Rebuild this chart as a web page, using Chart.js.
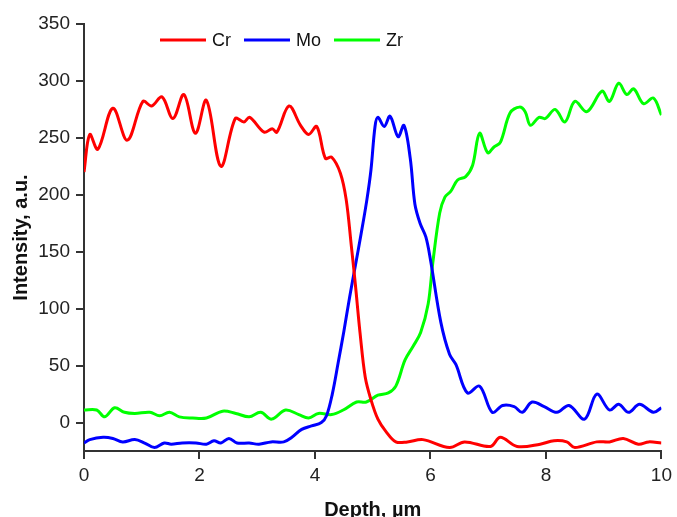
<!DOCTYPE html>
<html>
<head>
<meta charset="utf-8">
<script src="https://cdn.jsdelivr.net/npm/chart.js@4"></script>
<style>
  body { margin: 0; background: #fff; }
  #wrap { width: 677px; height: 517px; }
</style>
</head>
<body>
<div id="wrap"><canvas id="js--chart--1" width="677" height="517"></canvas></div>
<script>
const seriesNames = ["Cr", "Mo", "Zr"];
const seriesColors = ["#FF0000", "#0000FF", "#00FF00"];

const depthCr = [0, 0.1, 0.24, 0.5, 0.75, 1.02, 1.17, 1.35, 1.54, 1.73, 1.93, 2.12, 2.37, 2.62, 2.77, 2.87, 3.12, 3.26, 3.34, 3.55, 3.75, 3.89, 4.03, 4.18, 4.29, 4.44, 4.54, 4.63, 4.7, 4.78, 4.87, 4.97, 5.09, 5.23, 5.4, 5.6, 5.87, 6.33, 6.59, 7.04, 7.21, 7.5, 7.9, 8.14, 8.36, 8.5, 8.88, 9.1, 9.34, 9.6, 9.78, 10];
const intensityCr = [220, 253, 240, 276, 248, 282, 278, 286, 267, 288, 254, 283, 225, 267, 264, 268, 255, 258, 255, 278, 261, 253, 260, 232, 233, 219, 196, 155, 121, 79, 40, 20, 3, -8, -17, -17, -15, -22, -17, -21, -13, -21, -19, -16, -17, -22, -17, -17, -14, -19, -17, -18];

const depthMo = [0, 0.1, 0.33, 0.5, 0.67, 0.88, 1.05, 1.22, 1.39, 1.51, 1.7, 1.94, 2.12, 2.25, 2.37, 2.51, 2.65, 2.86, 3.03, 3.24, 3.46, 3.6, 3.77, 3.94, 4.11, 4.2, 4.3, 4.4, 4.5, 4.6, 4.7, 4.8, 4.9, 4.97, 5.04, 5.09, 5.2, 5.3, 5.44, 5.54, 5.65, 5.73, 5.82, 5.92, 6.0, 6.18, 6.33, 6.44, 6.64, 6.85, 7.07, 7.25, 7.45, 7.59, 7.76, 7.97, 8.19, 8.4, 8.67, 8.88, 9.1, 9.26, 9.43, 9.62, 9.86, 10];
const intensityMo = [-18, -15, -13, -14, -17, -15, -18, -22, -18, -19, -18, -18, -19, -16, -18, -14, -18, -18, -19, -17, -17, -13, -6, -3, 0, 6, 25, 52, 80, 110, 138, 166, 196, 222, 260, 268, 260, 269, 251, 261, 232, 192, 175, 163, 143, 88, 60, 51, 26, 32, 9, 15, 14, 9, 18, 14, 9, 15, 3, 25, 11, 16, 9, 16, 9, 13];

const depthZr = [0, 0.22, 0.36, 0.53, 0.7, 0.88, 1.14, 1.31, 1.48, 1.65, 1.88, 2.12, 2.4, 2.63, 2.86, 3.06, 3.25, 3.49, 3.72, 3.89, 4.06, 4.29, 4.49, 4.72, 4.89, 5.09, 5.27, 5.4, 5.56, 5.7, 5.83, 5.96, 6.04, 6.16, 6.25, 6.35, 6.47, 6.61, 6.73, 6.85, 6.99, 7.1, 7.21, 7.38, 7.54, 7.64, 7.73, 7.88, 7.99, 8.16, 8.33, 8.5, 8.71, 8.97, 9.1, 9.26, 9.4, 9.52, 9.69, 9.86, 10];
const intensityZr = [11, 11, 5, 13, 9, 8, 9, 6, 9, 5, 4, 4, 10, 8, 5, 9, 3, 11, 7, 4, 8, 7, 11, 18, 18, 24, 26, 32, 55, 67, 79, 104, 140, 184, 198, 203, 213, 216, 226, 254, 237, 242, 246, 272, 277, 273, 261, 268, 267, 275, 264, 282, 273, 291, 282, 298, 288, 293, 280, 285, 270];

const depths = [depthCr, depthMo, depthZr];
const intensities = [intensityCr, intensityMo, intensityZr];

const font = "'Liberation Sans', Arial, sans-serif";

const datasets = seriesNames.map((name, i) => ({
    label: name,
    data: depths[i].map((d, j) => ({ x: d, y: intensities[i][j] })),
    borderColor: seriesColors[i],
    backgroundColor: seriesColors[i],
    borderWidth: 3,
    pointRadius: 0,
    tension: 0.35,
    fill: false
}));

// legend drawn inside the plot, near the top
const insideLegend = {
    id: 'insideLegend',
    afterDatasetsDraw(chart) {
        const ctx = chart.ctx;
        const area = chart.chartArea;
        let x = area.left + 76;
        const y = area.top + 16;
        ctx.save();
        ctx.font = "18px " + font;
        ctx.textBaseline = 'middle';
        ctx.fillStyle = '#111';
        chart.data.datasets.forEach(ds => {
            ctx.strokeStyle = ds.borderColor;
            ctx.lineWidth = 3;
            ctx.beginPath();
            ctx.moveTo(x, y);
            ctx.lineTo(x + 46, y);
            ctx.stroke();
            x += 52;
            ctx.fillText(ds.label, x, y + 1);
            x += ctx.measureText(ds.label).width + 13;
        });
        ctx.restore();
    }
};

const config = {
    type: 'line',
    data: { datasets: datasets },
    options: {
        responsive: false,
        animation: false,
        layout: { padding: { top: 24, right: 12, left: 0, bottom: 0 } },
        plugins: { legend: { display: false }, tooltip: { enabled: false } },
        scales: {
            x: {
                type: 'linear',
                min: 0,
                max: 10,
                ticks: { stepSize: 2, color: '#222', font: { size: 19, family: font }, padding: 5, maxRotation: 0 },
                grid: { drawOnChartArea: false, drawTicks: true, tickLength: 8, color: '#333', lineWidth: 2 },
                border: { display: true, color: '#333', width: 2 },
                title: { display: true, text: 'Depth, µm', color: '#111', font: { size: 20, weight: 'bold', family: font }, padding: { top: 0, bottom: -5 } },
                afterFit(axis) { axis.height = 66; }
            },
            y: {
                min: -25,
                max: 350,
                ticks: { stepSize: 50, color: '#222', font: { size: 19, family: font }, padding: 6 },
                grid: { drawOnChartArea: false, drawTicks: true, tickLength: 8, color: '#333', lineWidth: 2 },
                border: { display: true, color: '#333', width: 2 },
                title: { display: true, text: 'Intensity, a.u.', color: '#111', font: { size: 20, weight: 'bold', family: font }, padding: { top: 9, bottom: 0 } },
                afterBuildTicks(axis) { axis.ticks = axis.ticks.filter(t => t.value >= 0); },
                afterFit(axis) { axis.width = 84; }
            }
        }
    },
    plugins: [insideLegend]
};

new Chart(document.getElementById("js--chart--1"), config);
</script>
</body>
</html>
